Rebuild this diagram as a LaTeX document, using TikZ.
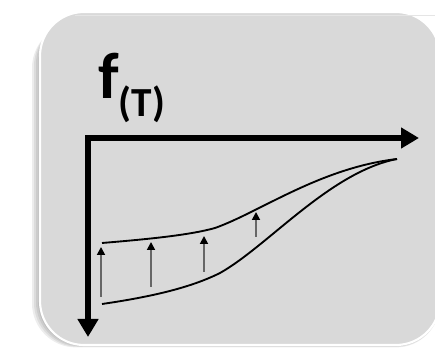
\documentclass[tikz,border=0pt]{standalone}
\usepackage{graphicx}
\usepackage{fontspec}
\setsansfont{Carlito}
\usetikzlibrary{arrows.meta}

\begin{document}
\begin{tikzpicture}[
		x=0.75pt,y=-0.75pt,
		font=\sffamily\bfseries,
		panel/.style={
			rounded corners=33pt,
			fill=black!15,
			draw=white,
			line width=1.6pt
		},
		panelshade/.style={
			rounded corners=33pt,
			fill=black,
			opacity=0.07
		},
		axis/.style={
			{Triangle[length=13.5pt,width=15pt]}-{Triangle[length=13.5pt,width=15pt]},
			draw=black,
			line width=3.8pt,
			line join=miter
		},
		curve/.style={
			draw=black,
			line width=1.4pt
		},
		lift/.style={
			-{Triangle[length=6pt,width=6pt,color=black]},
			draw=black!60,
			line width=1.3pt
		},
		ftext/.style={
			anchor=base west,
			inner sep=0pt,
			text=black
		}
	]
		\useasboundingbox (0,0) rectangle (435,352);

		% panel with soft left shadow
		\foreach \d in {2,4,6,8}
			\fill[panelshade] (40-\d,16+\d) rectangle (440,345+\d*0.3);
		\draw[panel] (40,12) rectangle (440,345);
		\draw[white!90!black,line width=0.8pt] (75,15.5) -- (440,15.5);

		% axes
		\coordinate (O) at (88,138);
		\coordinate (xtip) at (419,138);
		\coordinate (ytip) at (88,337);
		\draw[axis] (ytip) -- (O) -- (xtip);

		\node[ftext] (fT) at (98,99) {\resizebox{!}{34pt}{f}\raisebox{-13pt}{\fontsize{31}{31}\selectfont(T)}};

		% upper and lower profile
		\coordinate (u0) at (102,243);
		\coordinate (u1) at (215,228);
		\coordinate (l0) at (102,304);
		\coordinate (l1) at (220,273);
		\coordinate (tip) at (397,159);
		\draw[curve] (u0) .. controls (150,239) and (190,235) .. (u1)
			.. controls (260,212) and (320,168) .. (tip);
		\draw[curve] (l0) .. controls (150,297) and (190,288) .. (l1)
			.. controls (268,246) and (330,172) .. (tip);

		% lifting arrows
		\foreach \x/\ya/\yb [count=\i] in {101/297/247,151/287/242,204/272/236,256/237/212}{
			\coordinate (lo\i) at (\x,\ya);
			\coordinate (hi\i) at (\x,\yb);
			\draw[lift] (lo\i) -- (hi\i);
		}
	\end{tikzpicture}
\end{document}
